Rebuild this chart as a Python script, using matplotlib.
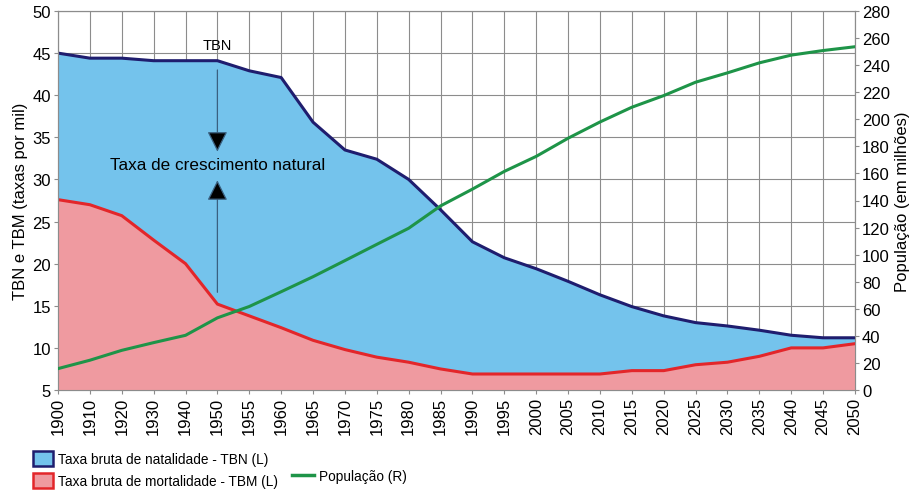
import matplotlib
matplotlib.use("Agg")
import matplotlib.pyplot as plt
from matplotlib.patches import Patch
from matplotlib.lines import Line2D

plt.rcParams['font.family'] = ['Liberation Sans', 'DejaVu Sans']

years = ["1900", "1910", "1920", "1930", "1940", "1950", "1955", "1960", "1965", "1970",
         "1975", "1980", "1985", "1990", "1995", "2000", "2005", "2010", "2015", "2020",
         "2025", "2030", "2035", "2040", "2045", "2050"]
tbn = [45.0, 44.4, 44.4, 44.1, 44.1, 44.1, 42.9, 42.1, 36.8, 33.5,
       32.4, 30.0, 26.4, 22.6, 20.7, 19.4, 17.9, 16.3, 14.9, 13.8,
       13.0, 12.6, 12.1, 11.5, 11.2, 11.2]
tbm = [27.6, 27.0, 25.7, 22.8, 20.0, 15.2, 13.8, 12.4, 10.9, 9.8,
       8.9, 8.3, 7.5, 6.9, 6.9, 6.9, 6.9, 6.9, 7.3, 7.3,
       8.0, 8.3, 9.0, 10.0, 10.0, 10.5]
pop = [15.8, 22.0, 29.3, 35.0, 40.4, 53.3, 61.7, 72.6, 83.7, 95.6,
       107.6, 119.5, 136.0, 148.4, 161.5, 172.6, 186.0, 198.0, 208.9, 217.5,
       227.4, 234.3, 241.7, 247.4, 250.8, 253.6]

left_ticks = list(range(5, 51, 5))
right_ticks = list(range(0, 281, 20))

c_blue_fill = "#74C3EC"
c_blue_line = "#1F1D6E"
c_red_fill = "#EF9AA0"
c_red_line = "#E3262A"
c_green = "#1E9448"
c_grid = "#8C8C8C"

fig = plt.figure(figsize=(9.16, 5.02), dpi=100)
ax = fig.add_axes([58/916, 1-391/502, (855-58)/916, (391-12)/502])
x = list(range(len(years)))

ax.fill_between(x, 5, tbn, color=c_blue_fill, zorder=2, linewidth=0)
ax.plot(x, tbn, color=c_blue_line, lw=2.2, zorder=3)
ax.fill_between(x, 5, tbm, color=c_red_fill, zorder=4, linewidth=0)
ax.plot(x, tbm, color=c_red_line, lw=2.2, zorder=5)

ax.set_xlim(0, len(years)-1)
ax.set_ylim(5, 50)
ax.set_yticks(left_ticks)
ax.set_xticks(x)
ax.set_xticklabels(years, rotation=90, fontsize=12)
ax.tick_params(axis='y', labelsize=12, length=3, color=c_grid, pad=2)
ax.tick_params(axis='x', length=3, color=c_grid, pad=2)
ax.grid(True, color=c_grid, lw=0.8, zorder=0)
ax.set_axisbelow(True)
for s in ax.spines.values():
    s.set_color(c_grid)
ax.set_ylabel("TBN e TBM (taxas por mil)", fontsize=12, labelpad=3)

# annotations
ax.text(5, 45.15, "TBN", ha='center', va='bottom', fontsize=10.5)
ax.text(5, 31.8, "Taxa de crescimento natural", ha='center', va='center', fontsize=12.3, zorder=8)
arrow = dict(arrowstyle='-|>,head_length=0.7,head_width=0.35', color='#3A6080', lw=0.9,
             mutation_scale=18, shrinkA=0, shrinkB=0, fc='black', ec='#3A6080')
ax.annotate("", xy=(5, 33.3), xytext=(5, 43.0), arrowprops=arrow, zorder=8)
ax.annotate("", xy=(5, 29.9), xytext=(5, 16.6), arrowprops=arrow, zorder=8)

ax2 = ax.twinx()
ax2.plot(x, pop, color=c_green, lw=2.2, zorder=6)
ax2.set_ylim(0, 280)
ax2.set_yticks(right_ticks)
ax2.tick_params(axis='y', labelsize=12, length=3, color=c_grid, pad=2)
for s in ax2.spines.values():
    s.set_color(c_grid)
ax2.set_ylabel("População (em milhões)", fontsize=12, labelpad=4)

h1 = [Patch(facecolor=c_blue_fill, edgecolor=c_blue_line, lw=1.8),
      Patch(facecolor=c_red_fill, edgecolor=c_red_line, lw=1.8)]
l1 = ["Taxa bruta de natalidade - TBN (L)", "Taxa bruta de mortalidade - TBM (L)"]
leg1 = fig.legend(h1, l1, loc='upper left', bbox_to_anchor=(33/916, 1-452/502),
                  frameon=False, borderaxespad=0, borderpad=0, handlelength=1.5,
                  handleheight=1.3, handletextpad=0.35, labelspacing=0.55,
                  prop={'size': 9.8})
leg2 = fig.legend([Line2D([0], [0], color=c_green, lw=2.5)], ["População (R)"],
                  loc='center left', bbox_to_anchor=(292/916, 1-477/502),
                  frameon=False, borderaxespad=0, borderpad=0, handlelength=1.6,
                  handletextpad=0.35, prop={'size': 9.8})

fig.savefig("out.png", dpi=100)
